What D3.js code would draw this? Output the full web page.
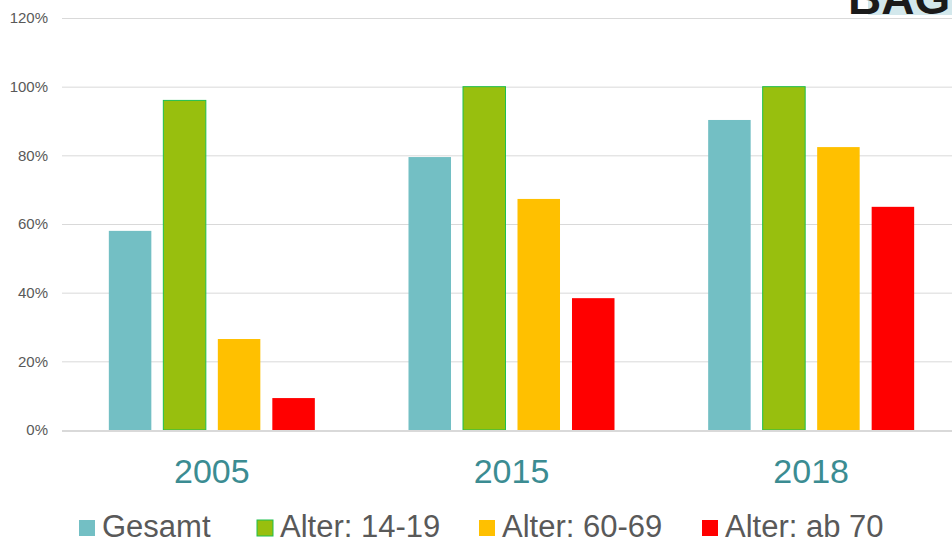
<!DOCTYPE html>
<html>
<head>
<meta charset="utf-8">
<script src="https://cdn.jsdelivr.net/npm/d3@7"></script>
<style>
  body { margin: 0; background: #fff; }
  text { font-family: "Liberation Sans", Arial, sans-serif; }
</style>
</head>
<body>
<div id="chart"></div>
<script>
// data
var years = ["2005", "2015", "2018"];
var series = ["Gesamt", "Alter: 14-19", "Alter: 60-69", "Alter: ab 70"];
var colors = ["#73bfc4", "#98bf0e", "#ffc000", "#ff0000"];
var gesamt = [58, 79.5, 90.3];
var alter1419 = [96, 100, 100];
var alter6069 = [26.5, 67.3, 82.4];
var alterAb70 = [9.3, 38.4, 65];
var yTicks = [0, 20, 40, 60, 80, 100, 120];

var values = [gesamt, alter1419, alter6069, alterAb70];

var W = 952, H = 544;
var svg = d3.select("#chart").append("svg")
    .attr("width", W)
    .attr("height", H);

// scales
var x0 = d3.scaleBand()
    .domain(years)
    .range([62, 961]);
var x1 = d3.scaleBand()
    .domain(series)
    .range([x0.bandwidth() / 2 - 103, x0.bandwidth() / 2 + 103])
    .paddingInner(0.22);
var y = d3.scaleLinear()
    .domain([0, 120])
    .range([430, 18]);

// gridlines
svg.append("g")
  .selectAll("line")
  .data(yTicks.filter(d => d > 0))
  .enter().append("line")
    .attr("x1", 62).attr("x2", W)
    .attr("y1", d => y(d) + 0.5).attr("y2", d => y(d) + 0.5)
    .attr("stroke", "#d9d9d9")
    .attr("stroke-width", 1);

// y axis labels
var yAxis = svg.append("g")
    .attr("transform", "translate(62,0)")
    .call(d3.axisLeft(y).tickValues(yTicks).tickSize(0).tickPadding(14).tickFormat(d => d + "%"));
yAxis.select(".domain").remove();
yAxis.selectAll("text")
    .style("font-size", "15px")
    .style("fill", "#595959")
    .style("font-family", "Liberation Sans, Arial, sans-serif");

// logo in the corner (only its lower edge is on the page)
svg.append("rect")
    .attr("x", 868).attr("y", 0)
    .attr("width", 84).attr("height", 15)
    .attr("fill", "#d3e8ec");
svg.append("text")
    .attr("x", 848).attr("y", 14)
    .style("font-size", "46px")
    .style("font-weight", "bold")
    .style("fill", "#1a1a1a")
    .text("BAG");

// bars
var groups = svg.append("g")
  .selectAll("g")
  .data(years)
  .enter().append("g")
    .attr("transform", d => "translate(" + x0(d) + ",0)");

groups.selectAll("rect")
  .data((d, i) => series.map((s, j) => ({ s: s, j: j, v: values[j][i] })))
  .enter().append("rect")
    .attr("x", d => x1(d.s))
    .attr("y", d => y(d.v))
    .attr("width", x1.bandwidth())
    .attr("height", d => y(0) - y(d.v))
    .attr("fill", d => colors[d.j])
    .attr("stroke", d => d.j == 1 ? "#1fbf4f" : "none")
    .attr("stroke-width", 1);

// baseline
svg.append("line")
    .attr("x1", 62).attr("x2", W)
    .attr("y1", 431).attr("y2", 431)
    .attr("stroke", "#d9d9d9")
    .attr("stroke-width", 2);

// year labels
svg.append("g")
  .selectAll("text")
  .data(years)
  .enter().append("text")
    .attr("x", d => x0(d) + x0.bandwidth() / 2)
    .attr("y", 483)
    .attr("text-anchor", "middle")
    .style("font-size", "34px")
    .style("fill", "#3b8c92")
    .text(d => d);

// legend
var legendX = [79, 257, 479, 702];
var legend = svg.append("g")
  .selectAll("g")
  .data(series)
  .enter().append("g")
    .attr("transform", (d, i) => "translate(" + legendX[i] + ",520)");
legend.append("rect")
    .attr("width", 16).attr("height", 16)
    .attr("fill", (d, i) => colors[i])
    .attr("stroke", (d, i) => i == 1 ? "#1fbf4f" : "none");
legend.append("text")
    .attr("x", 23)
    .attr("y", 17)
    .style("font-size", "31px")
    .style("fill", "#595959")
    .text(d => d);
</script>
</body>
</html>
